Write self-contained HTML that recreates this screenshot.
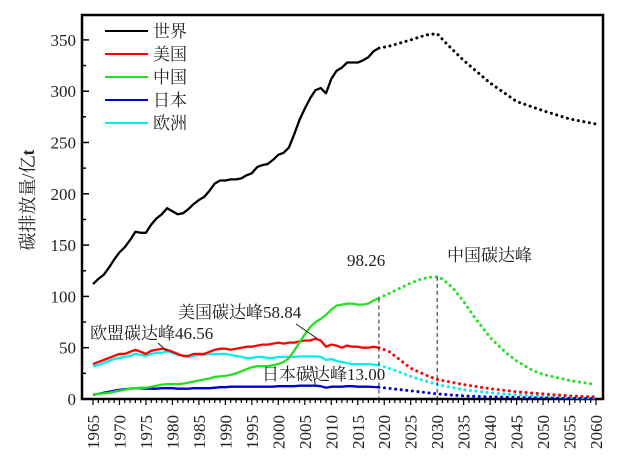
<!DOCTYPE html><html><head><meta charset="utf-8"><style>body{margin:0;background:#fff}svg{display:block}text{font-family:"Liberation Serif","Noto Serif CJK SC",serif;fill:#222}</style></head><body>
<svg id="s" width="629" height="460" xmlns="http://www.w3.org/2000/svg"></svg>
<script>
const s=document.getElementById('s');let h='';
const X=y=>93+(y-1965)*5.295, Y=v=>399-v*1.026;
h+='<rect x="82" y="15" width="521" height="384" fill="none" stroke="#000" stroke-width="2.5"/>';
for(let v=0;v<=350;v+=25){const y=Y(v);h+=`<line x1="82" x2="${v%50?86:89}" y1="${y}" y2="${y}" stroke="#000" stroke-width="1.5"/>`;if(v%50==0)h+=`<text x="76" y="${y+6}" font-size="17" text-anchor="end">${v}</text>`}
for(let yr=1965;yr<=2060;yr++){const x=X(yr);h+=`<line x1="${x}" x2="${x}" y1="399" y2="${yr%5?403:405}" stroke="#000" stroke-width="1.2"/>`;if(yr%5==0)h+=`<text transform="translate(${x+6},449) rotate(-90)" font-size="17">${yr}</text>`}
h+='<text transform="translate(34,200) rotate(-90)" font-size="18" text-anchor="middle">碳排放量/亿<tspan font-weight="bold">t</tspan></text>';
function pl(pts,c,dot){let d=pts.map(p=>X(p[0]).toFixed(1)+','+Y(p[1]).toFixed(1)).join(' ');return `<polyline points="${d}" fill="none" stroke="${c}" stroke-width="${dot?3:2.3}" ${dot?'stroke-dasharray="0.1 5.5" stroke-linecap="round"':'stroke-linejoin="round"'}/>`}
function ser(a,b){return a.map((v,i)=>[b+i,v])}
const W=ser([112,117,121,128,136,143,148,155,163,162,162,170,176,180,186,183,180,181,185,190,194,197,203,210,213,213,214,214,215,218,220,226,228,229,233,238,240,245,258,272,283,293,301,303,298,312,320,323,328,328,328,330,333,339,342],1965);
const US=ser([34,36,38,40,42,44,44,46,48,46,44,47,48,49,48,46,44,42,42,44,44,44,46,48,49,49,48,49,50,51,51,52,53,53,54,55,54,55,55,56,57,57,58.8,57,51,53,52,50,52,51,51,50,50,51,50],1965);
const CN=ser([4.5,5,5.5,6,7,8,9,10,10.5,11,11,12,13,14,14.5,14.5,14.5,15,16,17,18,19,20,21.5,22,22.5,23.5,25,27,29,31,32,32,32,33,34,36,40,47,55,63,70,75,78,82,87,91,92,93,93,92,92,93,96,98.3],1965);
const JP=ser([4,5,6,7,8,9,9.5,10,10.5,10.5,10,10,10,10.5,10.5,10.5,10,10,10,10.5,10.5,10.5,10.5,11,11.5,11.5,12,12,12,12,12,12,12,12,12,12.5,12.5,12.5,12.5,13,13,13,13,12.5,11,12,12,12,12.5,12.5,12,12,12,11.7,11.5],1965);
const EU=ser([32,33,35,37,39,40,41,42,44,43,42,44,45,45,46.5,45,43,42,41,42,43,43,44,44,44,44,43,42,41,40,40,41,41,40,40,41,41,41,41,41.5,41.5,41.5,41.5,41,38,39,37,36,35,34,34,34,34,33.5,33],1965);
h+=pl(W,'#000')+pl([[2019,342],[2021,344],[2025,350],[2028,355],[2030,356],[2032,345],[2035,330],[2040,308],[2045,290],[2050,281],[2055,273],[2060,268]],'#000',1);
h+=pl(EU,'#00f0f0')+pl([[2019,33],[2022,28],[2025,22],[2030,14],[2035,9],[2040,6],[2045,4],[2050,3],[2055,1.5],[2060,1]],'#00f0f0',1);
h+=pl(US,'#f00')+pl([[2019,50],[2021,46],[2023,38],[2025,30],[2028,23],[2030,19],[2035,14],[2040,10],[2045,7],[2050,5],[2055,3],[2060,2]],'#f00',1);
h+=pl(JP,'#00c')+pl([[2019,11.5],[2025,8],[2030,5],[2035,3],[2040,2],[2050,1],[2060,0.3]],'#00c',1);
h+=pl(CN,'#22e022')+pl([[2019,98.3],[2021,103],[2023,108],[2025,113],[2027,117],[2029,119],[2030,119],[2031,117],[2033,108],[2035,95],[2037,80],[2040,60],[2043,45],[2045,37],[2048,28],[2050,24],[2055,18],[2060,14]],'#22e022',1);
h+=`<line x1="${X(2019)}" x2="${X(2019)}" y1="${Y(98)}" y2="399" stroke="#222" stroke-dasharray="4 3"/>`;
h+=`<line x1="${X(2030)}" x2="${X(2030)}" y1="${Y(119)}" y2="399" stroke="#222" stroke-dasharray="4 3"/>`;
h+='<text x="347" y="266" font-size="17">98.26</text><text x="447" y="261" font-size="17">中国碳达峰</text>';
h+='<text x="178" y="318" font-size="17">美国碳达峰58.84</text><text x="90" y="339" font-size="17">欧盟碳达峰46.56</text><text x="262" y="380" font-size="17">日本碳达峰13.00</text>';
h+=`<line x1="296" y1="324" x2="${X(2007)+2}" y2="${Y(58.8)}" stroke="#222"/><line x1="158" y1="343" x2="${X(1979)}" y2="${Y(46.5)}" stroke="#222"/><line x1="312" y1="366" x2="${X(2007)}" y2="${Y(13)}" stroke="#222"/>`;
const L=[['世界','#000'],['美国','#f00'],['中国','#22e022'],['日本','#00c'],['欧洲','#00f0f0']];
L.forEach((l,i)=>{const y=31+i*23;h+=`<line x1="105" x2="148" y1="${y}" y2="${y}" stroke="${l[1]}" stroke-width="2"/><text x="153" y="${y+6}" font-size="17">${l[0]}</text>`});
s.innerHTML=h;
</script></body></html>
